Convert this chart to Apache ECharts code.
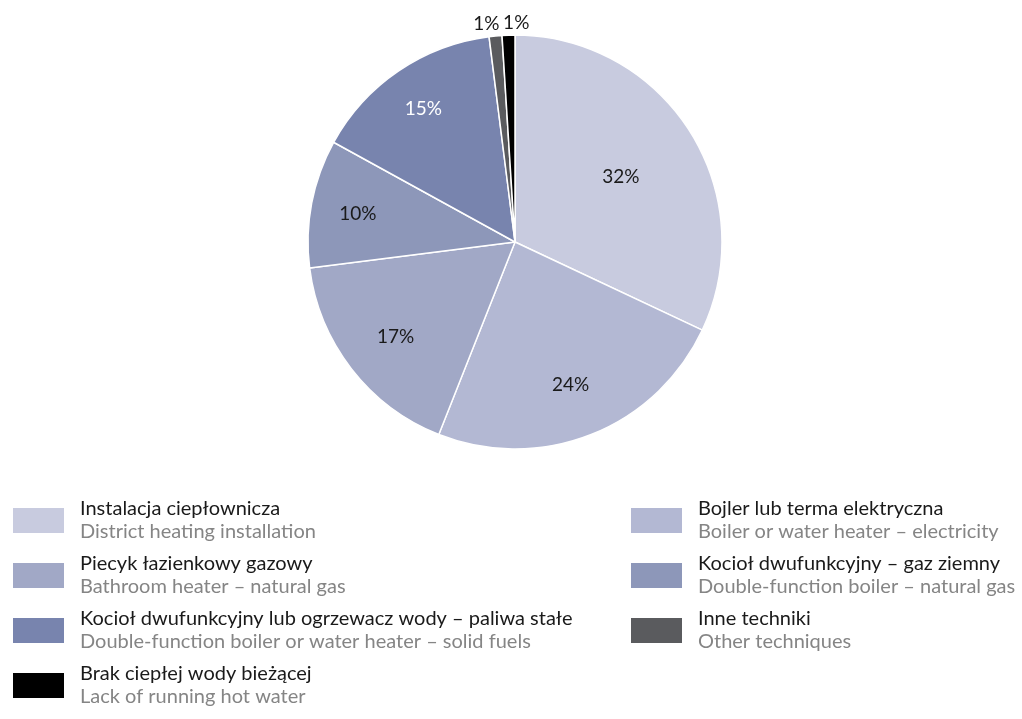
<!DOCTYPE html>
<html>
<head>
<meta charset="utf-8">
<script src="https://cdn.jsdelivr.net/npm/echarts@6/dist/echarts.min.js"></script>
<style>
html,body{margin:0;padding:0;background:#fff;}
#chart{width:1022px;height:719px;}
</style>
</head>
<body>
<div id="chart"></div>
<script>
const namesPl = [
  'Instalacja ciepłownicza',
  'Bojler lub terma elektryczna',
  'Piecyk łazienkowy gazowy',
  'Kocioł dwufunkcyjny – gaz ziemny',
  'Kocioł dwufunkcyjny lub ogrzewacz wody – paliwa stałe',
  'Inne techniki',
  'Brak ciepłej wody bieżącej'
];
const namesEn = [
  'District heating installation',
  'Boiler or water heater – electricity',
  'Bathroom heater – natural gas',
  'Double-function boiler – natural gas',
  'Double-function boiler or water heater – solid fuels',
  'Other techniques',
  'Lack of running hot water'
];
const values = [32, 24, 17, 10, 15, 1, 1];
const colors = ['#c8cbdf', '#b3b8d3', '#a1a8c6', '#8d97b9', '#7884ae', '#5a5b5e', '#000000'];
const leftLegend = [0, 2, 4, 6];
const rightLegend = [1, 3, 5];

const FONT = 'Lato';
const smallIdx = [5, 6];
const CX = 515, CY = 242, R = 207;
// radial pull for inside labels (style only)
const labelPull = { 0: 0.83, 3: 1.06, 4: 1.08 };

const mainData = values.map((v, i) => ({
  name: namesPl[i],
  value: v,
  itemStyle: { color: colors[i] },
  label: smallIdx.includes(i) ? { show: true, position: 'outside' } : { show: false },
  labelLine: { show: false }
}));

const labelData = values.map((v, i) => ({
  name: namesPl[i],
  value: v,
  label: {
    show: !smallIdx.includes(i),
    color: i === 4 ? '#ffffff' : '#1a1a1a'
  }
}));

const enMap = {};
namesPl.forEach((n, i) => { enMap[n] = namesEn[i]; });

function makeLegend(idx, left) {
  return {
    orient: 'vertical',
    left: left,
    top: 499,
    padding: 0,
    itemWidth: 53,
    itemHeight: 27,
    itemGap: 12,
    icon: 'rect',
    selectedMode: false,
    data: idx.map(i => namesPl[i]),
    formatter: name => '{a|' + name + '}\n{b|' + enMap[name] + '}',
    textStyle: {
      padding: [0, 0, 0, 10],
      rich: {
        a: { fontFamily: FONT, fontSize: 20, color: '#1a1a1a', lineHeight: 23 },
        b: { fontFamily: FONT, fontSize: 20, color: '#858585', lineHeight: 23 }
      }
    }
  };
}

const chart = echarts.init(document.getElementById('chart'));
chart.setOption({
  backgroundColor: '#ffffff',
  animation: false,
  legend: [makeLegend(leftLegend, 11), makeLegend(rightLegend, 629)],
  series: [
    {
      type: 'pie',
      center: [CX, CY],
      radius: [0, R],
      startAngle: 90,
      clockwise: true,
      avoidLabelOverlap: false,
      itemStyle: { borderColor: '#ffffff', borderWidth: 1.5 },
      label: {
        fontFamily: FONT, fontSize: 19, color: '#1a1a1a',
        formatter: '{c}%'
      },
      labelLine: { show: false, length: 12, length2: 0 },
      labelLayout: function (p) {
        if (p.dataIndex === 6) return { align: 'left' };
        if (p.dataIndex === 5) return { dx: 10 };
        return {};
      },
      emphasis: { disabled: true },
      data: mainData
    },
    {
      type: 'pie',
      center: [CX, CY],
      radius: [0, 296],
      startAngle: 90,
      clockwise: true,
      silent: true,
      avoidLabelOverlap: false,
      itemStyle: { color: 'rgba(0,0,0,0)', borderWidth: 0 },
      label: {
        position: 'inside',
        fontFamily: FONT, fontSize: 19,
        formatter: '{c}%'
      },
      labelLine: { show: false },
      labelLayout: function (p) {
        const k = labelPull[p.dataIndex];
        const r = p.labelRect;
        const lx = r.x + r.width / 2, ly = r.y + r.height / 2;
        const f = (k || 1) - 1;
        return { dx: (lx - CX) * f, dy: (ly - CY) * f + 2 };
      },
      emphasis: { disabled: true },
      data: labelData
    }
  ]
});
</script>
</body>
</html>
